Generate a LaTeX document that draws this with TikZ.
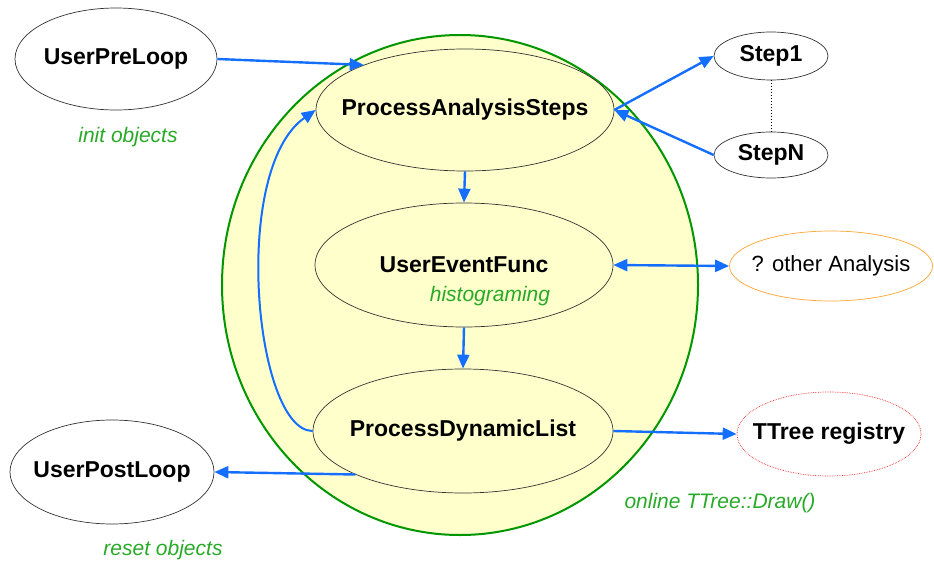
\documentclass[tikz,border=0pt]{standalone}
\usepackage{fontspec}
\setmainfont{Liberation Sans}
\usetikzlibrary{shapes.geometric,arrows.meta}
\definecolor{flowblue}{RGB}{20,110,255}
\definecolor{fillyellow}{RGB}{255,255,204}
\definecolor{ringgreen}{RGB}{0,150,0}
\definecolor{notegreen}{RGB}{40,170,40}
\definecolor{otherorange}{RGB}{255,165,50}
\definecolor{treered}{RGB}{240,40,40}
\newcommand{\lbl}[1]{\makebox[0pt]{#1}}
\tikzset{
	box/.style={ellipse,draw=black!80,line width=0.7pt,inner sep=0pt,font=\fontsize{23}{26}\selectfont\bfseries},
	inbox/.style={box,fill=fillyellow,minimum width=298pt,minimum height=122pt},
	note/.style={font=\fontsize{21}{24}\selectfont\itshape,text=notegreen},
	flow/.style={draw=flowblue,line width=2.4pt,-{Triangle[length=14pt,width=12pt]}},
}
\begin{document}
\begin{tikzpicture}[x=1pt,y=-1pt]
	\useasboundingbox (0,0) rectangle (934,564);
	%			big ring
	\node[ellipse,draw=ringgreen,line width=2pt,fill=fillyellow,minimum width=476pt,minimum height=500pt] (ring) at (460,285) {};
	
	\node[inbox] (pas) at (465,110) {\lbl{ProcessAnalysisSteps}};
	\node[inbox,minimum height=124pt] (uef) at (464,265) {\lbl{UserEventFunc}};
	\node[inbox,minimum width=300pt,minimum height=124pt] (pdl) at (463,431) {\lbl{ProcessDynamicList}};
	
	\node[box,minimum width=202pt,minimum height=102pt] (upre) at (116,59) {\lbl{UserPreLoop}};
	\node[box,minimum width=204pt,minimum height=104pt] (upost) at (112,472) {\lbl{UserPostLoop}};
	\node[box,minimum width=114pt,minimum height=48pt] (step1) at (771,56) {\lbl{Step1}};
	\node[box,minimum width=114pt,minimum height=46pt] (stepn) at (771,155) {\lbl{StepN}};
	\node[box,draw=otherorange,font=\fontsize{22}{25}\selectfont,minimum width=203pt,minimum height=70pt] (other) at (831,266) {\lbl{? other Analysis}};
	\node[box,draw=treered,densely dotted,minimum width=184pt,minimum height=84pt] (ttree) at (829,434) {\lbl{TTree registry}};
	
	\node[note] (initn) at (128,137) {init objects};
	\node[note] (histn) at (490,296) {histograming};
	\node[note] (resetn) at (163,550) {reset objects};
	\node[note] (drawn) at (720,503) {online TTree::Draw()};
	
	\draw[flow] (upre.east) -- (pas.156);
	\draw[flow] (pas.east) -- (step1.west);
	\draw[flow] (stepn.west) -- (pas.east);
	\draw[dotted,line width=1pt] (step1.south) -- (stepn.north);
	\draw[flow] (pas.south) -- (uef.north);
	\draw[flow] (uef.south) -- (pdl.north);
	\draw[flow,{Triangle[length=14pt,width=12pt]}-{Triangle[length=14pt,width=12pt]}] (uef.east) -- (other.west);
	\draw[flow] (pdl.east) -- (ttree.west);
	\draw[flow] (pdl.202) -- (upost.east);
	\draw[flow,line width=2pt] (pdl.west) .. controls (255,431) and (230,170) .. (pas.west);
\end{tikzpicture}
\end{document}
